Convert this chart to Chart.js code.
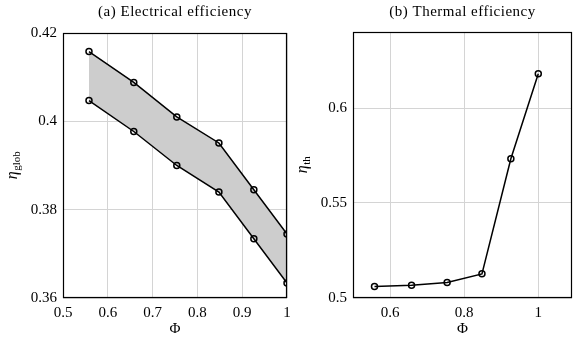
<!DOCTYPE html>
<html>
<head>
<meta charset="utf-8">
<script src="https://cdn.jsdelivr.net/npm/chart.js@4.4.1/dist/chart.umd.min.js"></script>
<style>
  html, body { margin: 0; padding: 0; background: #fff; }
  #wrap { position: relative; width: 573px; height: 341px; }
  .box { position: absolute; top: 0; height: 341px; }
</style>
</head>
<body>
<div id="wrap">
  <div class="box" style="left:0;width:290px"><canvas id="elec"></canvas></div>
  <div class="box" style="left:290px;width:283px"><canvas id="therm"></canvas></div>
</div>
<script>
// equivalence ratio
const phi = [0.558, 0.658, 0.754, 0.848, 0.926, 1.0];

// (a) electrical efficiency, upper and lower bound
const etaGlobUpper = [0.4158, 0.4088, 0.4010, 0.3951, 0.3845, 0.3745];
const etaGlobLower = [0.4047, 0.3977, 0.3900, 0.3840, 0.3734, 0.3634];

// (b) thermal efficiency
const etaTh = [0.5061, 0.5067, 0.5082, 0.5127, 0.5733, 0.6180];

// tick labels
const elecXTicks = [0.5, 0.6, 0.7, 0.8, 0.9, 1];
const elecYTicks = [0.36, 0.38, 0.4, 0.42];
const thermXTicks = [0.6, 0.8, 1];
const thermYTicks = [0.5, 0.55, 0.6];

const FONT = "'Liberation Serif', 'DejaVu Serif', serif";
const GRID = 'rgb(212, 212, 212)';

function toPoints(xs, ys) {
    return xs.map((x, i) => ({x: x, y: ys[i]}));
}

// frame, title and axis titles (subscripted eta)
const decoPlugin = {
    id: 'deco',
    afterDraw(chart, args, opts) {
        const ctx = chart.ctx;
        const a = chart.chartArea;
        const cx = (a.left + a.right) / 2;
        ctx.save();
        ctx.strokeStyle = '#000';
        ctx.lineWidth = 1.2;
        ctx.strokeRect(a.left + 0.5, a.top + 0.5, a.right - a.left - 1, a.bottom - a.top - 1);

        ctx.fillStyle = '#000';
        ctx.textAlign = 'center';
        ctx.textBaseline = 'middle';
        ctx.font = '15px ' + FONT;
        ctx.letterSpacing = '0.5px';
        ctx.fillText(opts.title, cx, 12);
        ctx.letterSpacing = '0px';
        ctx.fillText('Φ', cx, 329);

        // y title: eta with subscript, rotated
        ctx.translate(opts.yTitleX, (a.top + a.bottom) / 2);
        ctx.rotate(-Math.PI / 2);
        ctx.textBaseline = 'alphabetic';
        ctx.font = 'italic 16px ' + FONT;
        const w1 = ctx.measureText('η').width;
        ctx.font = '11px ' + FONT;
        const w2 = ctx.measureText(opts.sub).width;
        const start = -(w1 + w2) / 2;
        ctx.textAlign = 'left';
        ctx.font = 'italic 16px ' + FONT;
        ctx.fillText('η', start, 4);
        ctx.font = '11px ' + FONT;
        ctx.fillText(opts.sub, start + w1 + 0.5, 7);
        ctx.restore();
    }
};

function axisOpts(min, max, ticks, isX) {
    return {
        type: 'linear',
        min: min,
        max: max,
        afterBuildTicks: (scale) => {
            scale.ticks = ticks.map(v => ({value: v}));
        },
        afterFit: (scale) => {
            if (isX) scale.height = 43; else scale.width = 63;
            scale.paddingLeft = 0;
            scale.paddingRight = 0;
            scale.paddingTop = 0;
            scale.paddingBottom = 0;
        },
        grid: { color: GRID, lineWidth: 1, drawTicks: false },
        border: { display: false },
        ticks: {
            color: '#000',
            padding: 6,
            maxRotation: 0,
            autoSkip: false,
            font: { family: FONT, size: 15 },
            callback: (v) => String(v)
        }
    };
}

function lineDataset(data, extra) {
    return Object.assign({
        data: data,
        borderColor: '#000',
        borderWidth: 1.5,
        pointRadius: 3,
        pointBorderWidth: 1.5,
        pointBorderColor: '#000',
        pointBackgroundColor: 'rgba(0,0,0,0)',
        tension: 0,
        fill: false
    }, extra || {});
}

function makeChart(id, datasets, xMin, xMax, xTicks, yMin, yMax, yTicks, padding, deco) {
    return new Chart(document.getElementById(id).getContext('2d'), {
        type: 'line',
        data: { datasets: datasets },
        options: {
            responsive: true,
            maintainAspectRatio: false,
            animation: false,
            layout: { padding: padding, autoPadding: false },
            plugins: {
                legend: { display: false },
                tooltip: { enabled: false },
                filler: { drawTime: 'beforeDatasetsDraw' },
                deco: deco
            },
            scales: {
                x: axisOpts(xMin, xMax, xTicks, true),
                y: axisOpts(yMin, yMax, yTicks, false)
            }
        },
        plugins: [decoPlugin]
    });
}

makeChart('elec', [
    lineDataset(toPoints(phi, etaGlobUpper), { fill: '+1', backgroundColor: 'rgb(205, 205, 205)' }),
    lineDataset(toPoints(phi, etaGlobLower))
], 0.5, 1, elecXTicks, 0.36, 0.42, elecYTicks,
   { top: 33, right: 3, left: 0, bottom: 0 },
   { title: '(a) Electrical efficiency', sub: 'glob', yTitleX: 13 });

makeChart('therm', [
    lineDataset(toPoints(phi, etaTh))
], 0.5, 1.091, thermXTicks, 0.5, 0.64, thermYTicks,
   { top: 32, right: 1, left: 0, bottom: 0 },
   { title: '(b) Thermal efficiency', sub: 'th', yTitleX: 13 });
</script>
</body>
</html>
